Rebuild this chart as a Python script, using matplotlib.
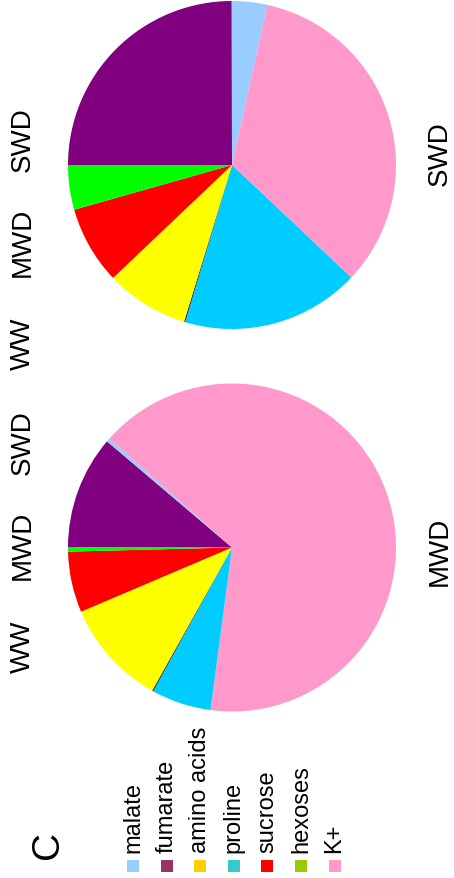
import matplotlib
matplotlib.use("Agg")
import matplotlib.pyplot as plt
from matplotlib.patches import Rectangle

plt.rcParams['font.family'] = ['Liberation Sans Narrow', 'Liberation Sans', 'DejaVu Sans']

W, H = 454, 879

# slice order going clockwise from the left edge of each pie
slices = ["fumarate", "malate", "K+", "proline", "other", "amino acids", "sucrose", "hexoses"]
swd_pct = [25.0, 3.5, 33.6, 17.6, 0.1, 8.2, 7.7, 4.4]
mwd_pct = [11.2, 0.35, 65.5, 5.9, 0.1, 10.5, 6.0, 0.4]

pie_colors = {
    "malate": "#99CCFF", "fumarate": "#800080", "amino acids": "#FFFF00",
    "proline": "#00CCFF", "sucrose": "#FF0000", "hexoses": "#00FF00",
    "K+": "#FF99CC", "other": "#000000",
}

legend_names = ["malate", "fumarate", "amino acids", "proline", "sucrose", "hexoses", "K+"]
legend_colors = ["#99CCFF", "#993366", "#FFCC00", "#33CCCC", "#FF0000", "#99CC00", "#FF99CC"]

treatments = ["WW", "MWD", "SWD"]

fig = plt.figure(figsize=(W / 100, H / 100), dpi=100)
ax = fig.add_axes([0, 0, 1, 1])

R = 164
for vals, cy in [(swd_pct, H - 166), (mwd_pct, H - 548.5)]:
    ax.pie(vals, colors=[pie_colors[s] for s in slices], startangle=180,
           counterclock=False, center=(232, cy), radius=R,
           wedgeprops=dict(linewidth=0), frame=True)
ax.set_xlim(0, W)
ax.set_ylim(0, H)
ax.set_aspect("equal")
ax.axis("off")

# treatment labels down the left side
for top in [140, 443]:
    for i, t in enumerate(reversed(treatments)):
        ax.text(23, H - (top + i * 102), t, rotation=90, ha="center", va="center",
                fontsize=20)

ax.text(440, H - 154, "SWD", rotation=90, ha="center", va="center", fontsize=20)
ax.text(440, H - 551, "MWD", rotation=90, ha="center", va="center", fontsize=20)

ax.text(48, H - 845, "C", rotation=90, ha="center", va="center", fontsize=28)

# legend: swatches along the bottom with labels standing above them
sw = 12
for i, (name, col) in enumerate(zip(legend_names, legend_colors)):
    x = 133 + i * 33.6
    ax.add_patch(Rectangle((x - sw / 2, H - 873), sw, sw, facecolor=col,
                           edgecolor="none"))
    ax.text(x, H - 853, name, rotation=90, rotation_mode="anchor",
            ha="left", va="center", fontsize=17)

fig.savefig("out.png", dpi=100)
